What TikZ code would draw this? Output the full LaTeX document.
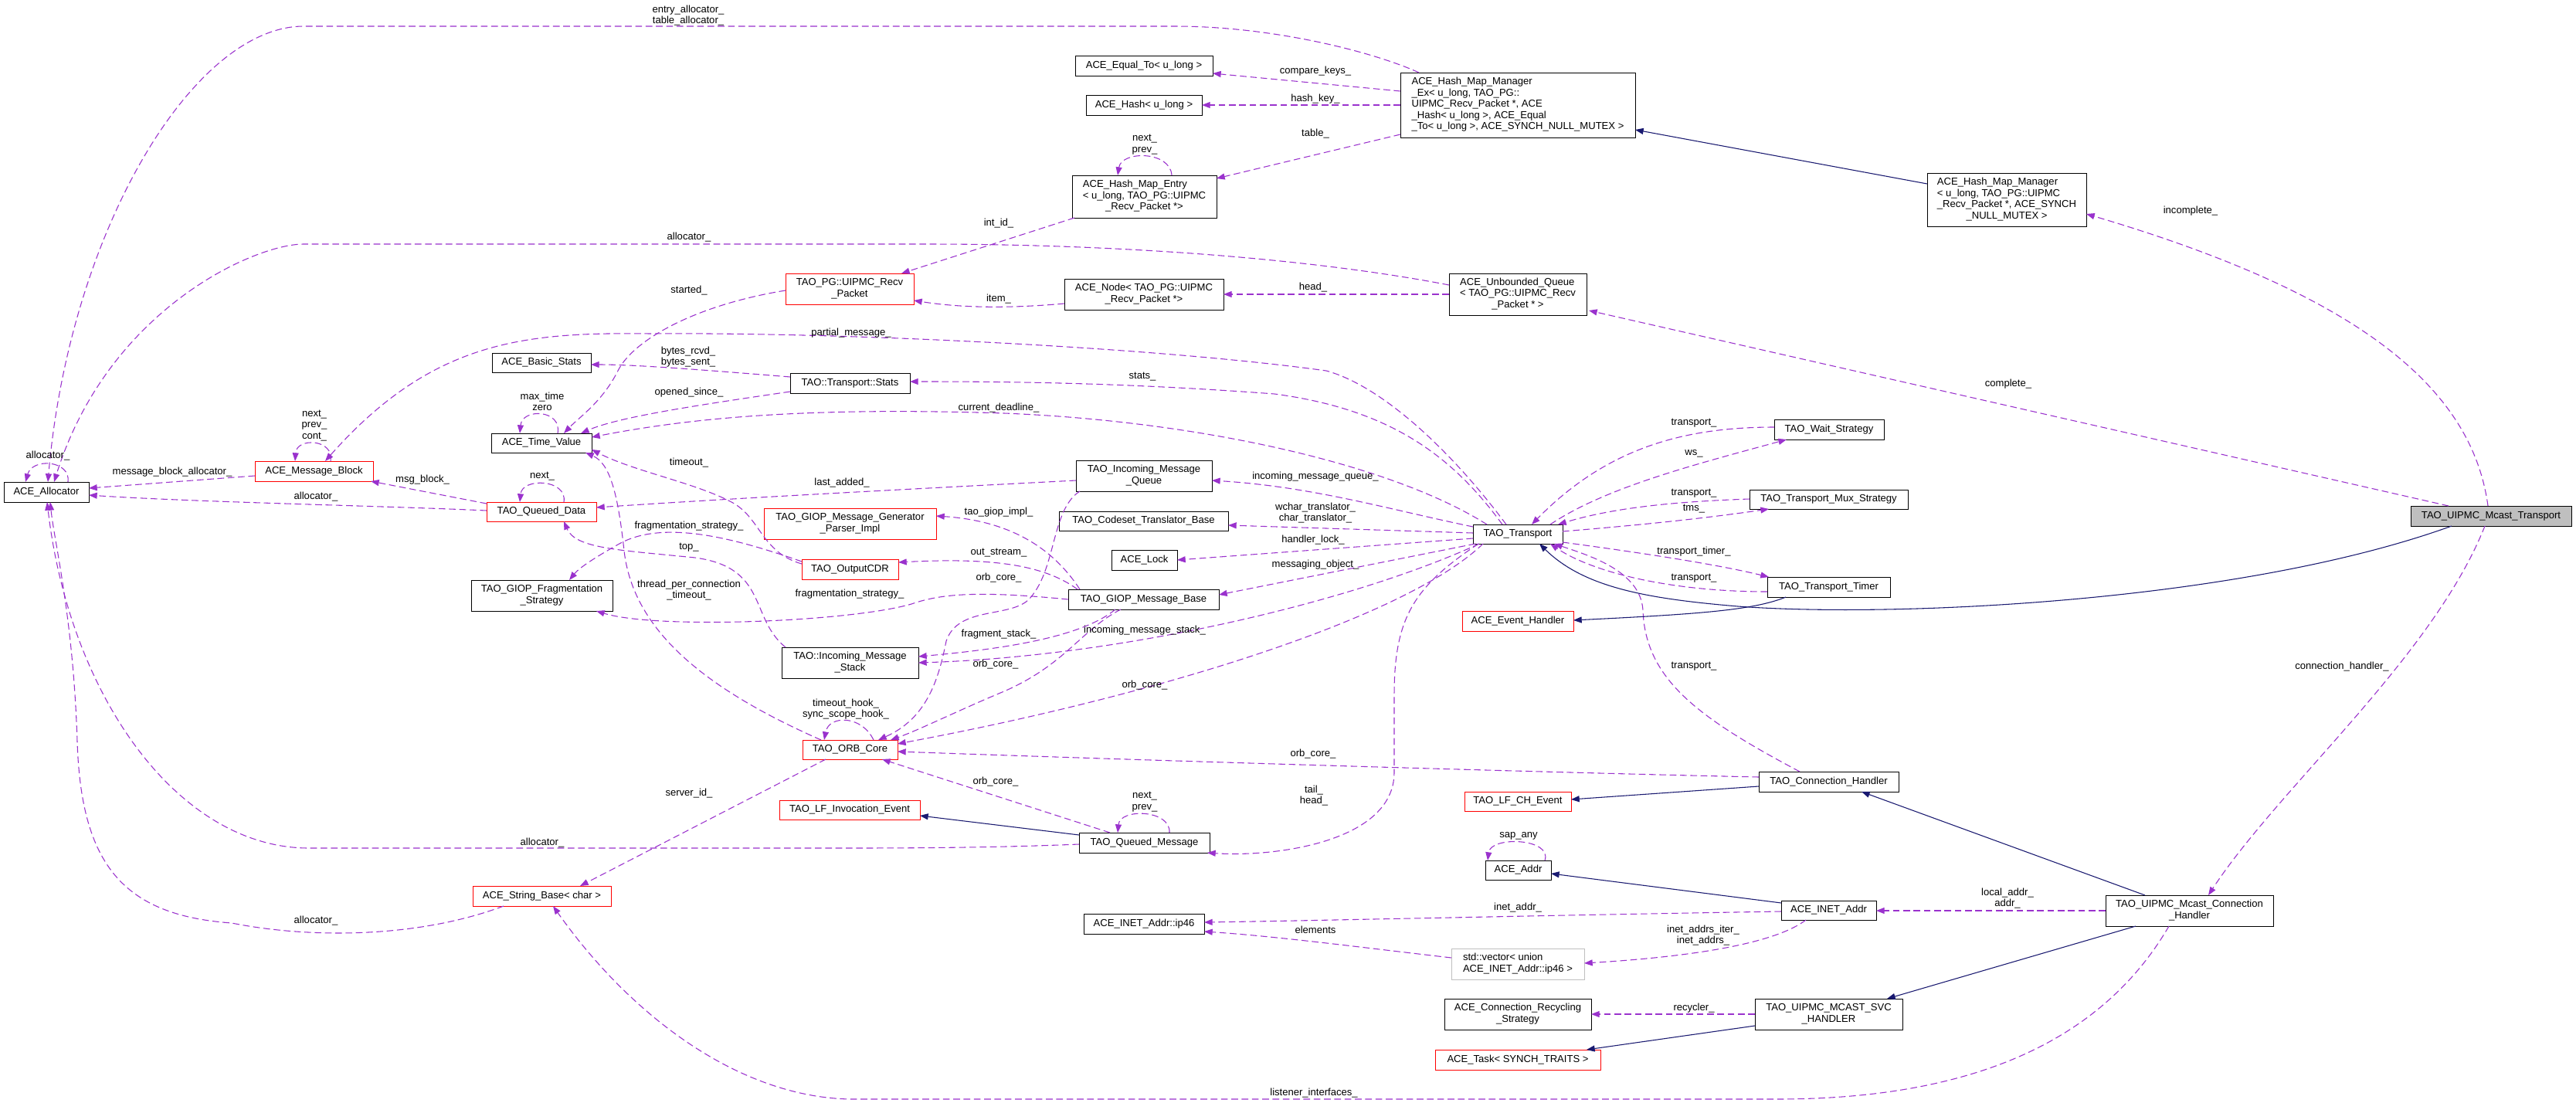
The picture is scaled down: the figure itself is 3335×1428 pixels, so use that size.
\documentclass[tikz,border=0pt]{standalone}
\usepackage{fontspec}
\setmainfont{Liberation Sans}
\usetikzlibrary{arrows.meta,calc}
\definecolor{edgeP}{HTML}{9A32CD}
\definecolor{inhB}{HTML}{191970}
\definecolor{grayB}{HTML}{BFBFBF}
\newcommand\mlt[1]{\begin{tabular}{@{}l@{}}#1\end{tabular}}
\newcommand\lastl[1]{\multicolumn{1}{@{}c@{}}{#1}}
\newcommand\mkbox[7]{%
  \pgfmathsetmacro\mkw{(#4-#2)*0.75}%
  \pgfmathsetmacro\mkh{(#5-#3)*0.75}%
  \node[#6,minimum width=\mkw pt,minimum height=\mkh pt] (#1) at ({(#2+#4)/2},{(#3+#5)/2}) {#7};}
\begin{document}
\begin{tikzpicture}[x=0.75pt,y=-0.75pt,
  font=\fontsize{9.8}{10.9}\selectfont,
  box/.style={draw=black,line width=0.75pt,inner sep=0pt,outer sep=0pt,fill=white},
  rbox/.style={box,draw=red},
  gbox/.style={box,draw=grayB},
  selbox/.style={box,fill=grayB},
  uedge/.style={draw=edgeP,line width=0.8pt,dash pattern=on 6.5pt off 3.5pt,-{Triangle[length=8pt,width=6pt]}},
  iedge/.style={draw=inhB,line width=0.8pt,-{Triangle[length=8pt,width=6pt]}},
  lbl/.style={inner sep=0pt,align=center}]
\fill[white] (0,0) rectangle (3335,1428);
\useasboundingbox (0,0) rectangle (3335,1428);
% ---------- boxes
\mkbox{ALLOC}{5}{624}{115}{650}{box}{ACE\_Allocator}
\mkbox{MB}{330}{597}{483}{623}{rbox}{ACE\_Message\_Block}
\mkbox{TV}{636}{561}{766}{586}{box}{ACE\_Time\_Value}
\mkbox{BS}{637}{457}{765}{482}{box}{ACE\_Basic\_Stats}
\mkbox{QD}{630}{650}{772}{675}{rbox}{TAO\_Queued\_Data}
\mkbox{FS}{610}{751}{793}{791}{box}{\mlt{TAO\_GIOP\_Fragmentation\\\lastl{\_Strategy}}}
\mkbox{SB}{612}{1147}{791}{1173}{rbox}{ACE\_String\_Base< char >}
\mkbox{RP}{1017}{354}{1183}{394}{rbox}{\mlt{TAO\_PG::UIPMC\_Recv\\\lastl{\_Packet}}}
\mkbox{ST}{1023}{483}{1178}{509}{box}{TAO::Transport::Stats}
\mkbox{PI}{989}{658}{1212}{698}{rbox}{\mlt{TAO\_GIOP\_Message\_Generator\\\lastl{\_Parser\_Impl}}}
\mkbox{OC}{1038}{724}{1163}{750}{rbox}{TAO\_OutputCDR}
\mkbox{IMS}{1012}{838}{1189}{878}{box}{\mlt{TAO::Incoming\_Message\\\lastl{\_Stack}}}
\mkbox{OR}{1039}{958}{1162}{983}{rbox}{TAO\_ORB\_Core}
\mkbox{LFI}{1009}{1036}{1191}{1061}{rbox}{TAO\_LF\_Invocation\_Event}
\mkbox{EQ}{1392}{72}{1570}{98}{box}{ACE\_Equal\_To< u\_long >}
\mkbox{HS}{1406}{123}{1556}{149}{box}{ACE\_Hash< u\_long >}
\mkbox{HE}{1388}{227}{1575}{282}{box}{\mlt{ACE\_Hash\_Map\_Entry\\< u\_long, TAO\_PG::UIPMC\\\lastl{\_Recv\_Packet *>}}}
\mkbox{ND}{1378}{361}{1584}{401}{box}{\mlt{ACE\_Node< TAO\_PG::UIPMC\\\lastl{\_Recv\_Packet *>}}}
\mkbox{IMQ}{1393}{596}{1569}{636}{box}{\mlt{TAO\_Incoming\_Message\\\lastl{\_Queue}}}
\mkbox{CT}{1371}{662}{1590}{687}{box}{TAO\_Codeset\_Translator\_Base}
\mkbox{LK}{1439}{712}{1524}{738}{box}{ACE\_Lock}
\mkbox{GMB}{1383}{763}{1578}{789}{box}{TAO\_GIOP\_Message\_Base}
\mkbox{QM}{1397}{1078}{1566}{1104}{box}{TAO\_Queued\_Message}
\mkbox{IP}{1403}{1183}{1559}{1209}{box}{ACE\_INET\_Addr::ip46}
\mkbox{HMX}{1813}{94}{2117}{178}{box}{\mlt{ACE\_Hash\_Map\_Manager\\\_Ex< u\_long, TAO\_PG::\\UIPMC\_Recv\_Packet *, ACE\\\_Hash< u\_long >, ACE\_Equal\\\lastl{\_To< u\_long >, ACE\_SYNCH\_NULL\_MUTEX >}}}
\mkbox{UQ}{1876}{354}{2054}{408}{box}{\mlt{ACE\_Unbounded\_Queue\\< TAO\_PG::UIPMC\_Recv\\\lastl{\_Packet * >}}}
\mkbox{TT}{1907}{679}{2023}{704}{box}{TAO\_Transport}
\mkbox{EH}{1893}{791}{2037}{817}{rbox}{ACE\_Event\_Handler}
\mkbox{LFC}{1896}{1025}{2034}{1050}{rbox}{TAO\_LF\_CH\_Event}
\mkbox{AD}{1923}{1114}{2008}{1139}{box}{ACE\_Addr}
\mkbox{VEC}{1879}{1228}{2051}{1268}{gbox}{\mlt{std::vector< union\\\lastl{ACE\_INET\_Addr::ip46 >}}}
\mkbox{CRS}{1870}{1293}{2060}{1333}{box}{\mlt{ACE\_Connection\_Recycling\\\lastl{\_Strategy}}}
\mkbox{TASK}{1858}{1359}{2072}{1385}{rbox}{ACE\_Task< SYNCH\_TRAITS >}
\mkbox{WS}{2297}{543}{2439}{569}{box}{TAO\_Wait\_Strategy}
\mkbox{MUX}{2265}{634}{2470}{659}{box}{TAO\_Transport\_Mux\_Strategy}
\mkbox{TMR}{2288}{747}{2447}{773}{box}{TAO\_Transport\_Timer}
\mkbox{CH}{2277}{999}{2458}{1025}{box}{TAO\_Connection\_Handler}
\mkbox{IA}{2306}{1166}{2429}{1191}{box}{ACE\_INET\_Addr}
\mkbox{SVC}{2272}{1293}{2463}{1333}{box}{\mlt{TAO\_UIPMC\_MCAST\_SVC\\\lastl{\_HANDLER}}}
\mkbox{HMM}{2495}{224}{2701}{293}{box}{\mlt{ACE\_Hash\_Map\_Manager\\< u\_long, TAO\_PG::UIPMC\\\_Recv\_Packet *, ACE\_SYNCH\\\lastl{\_NULL\_MUTEX >}}}
\mkbox{MT}{3121}{655}{3329}{681}{selbox}{TAO\_UIPMC\_Mcast\_Transport}
\mkbox{MCH}{2726}{1159}{2943}{1199}{box}{\mlt{TAO\_UIPMC\_Mcast\_Connection\\\lastl{\_Handler}}}
% ---------- usage edges
\draw[uedge] ($(HMX.north west)+(24,0)$) .. controls (1780,68) and (1650,34) .. (1521,34) -- (393,34) .. controls (250,34) and (90,300) .. ($(ALLOC.north west)+(57,0)$);
\draw[uedge] ($(UQ.north west)+(0,15)$) .. controls (1700,335) and (1450,316) .. (1200,316) -- (393,316) .. controls (330,316) and (140,400) .. ($(ALLOC.north west)+(65,0)$);
\draw[uedge] ($(MB.north west)+(0,19)$) -- ($(ALLOC.north west)+(110,8)$);
\draw[uedge] ($(QD.north west)+(0,11)$) .. controls (500,655) and (250,650) .. ($(ALLOC.north west)+(110,17)$);
\draw[uedge] ($(QM.north west)+(0,15)$) .. controls (1300,1097) and (1200,1098) .. (1100,1098) -- (400,1098) .. controls (230,1098) and (90,900) .. ($(ALLOC.south west)+(56,0)$);
\draw[uedge] ($(SB.south west)+(40,0)$) .. controls (540,1215) and (400,1215) .. (300,1195) .. controls (160,1185) and (105,1120) .. (100,960) .. controls (95,800) and (70,700) .. ($(ALLOC.south west)+(60,0)$);
\draw[uedge] ($(ALLOC.north west)+(83,0)$) .. controls (92,596) and (42,592) .. ($(ALLOC.north west)+(28,0)$);
\draw[uedge] ($(MB.north west)+(98,0)$) .. controls (433,568) and (384,566) .. ($(MB.north west)+(52,0)$);
\draw[uedge] ($(TT.north west)+(43,0)$) .. controls (1880,585) and (1790,500) .. (1717,480) .. controls (1500,450) and (1100,430) .. (842,432) .. controls (680,430) and (560,440) .. ($(MB.north west)+(91,0)$);
\draw[uedge] ($(TT.north west)+(38,0)$) .. controls (1880,590) and (1800,530) .. (1650,510) .. controls (1450,495) and (1300,494) .. ($(ST.north west)+(155,11)$);
\draw[uedge] ($(TT.north west)+(18,0)$) .. controls (1800,600) and (1550,545) .. (1300,535) .. controls (1050,527) and (900,540) .. ($(TV.north west)+(130,5)$);
\draw[uedge] ($(ST.south west)+(0,-2)$) .. controls (900,525) and (800,540) .. ($(TV.north west)+(116,0)$);
\draw[uedge] ($(RP.north west)+(0,22)$) .. controls (900,395) and (820,440) .. (800,480) .. controls (780,520) and (750,540) .. ($(TV.north west)+(94,0)$);
\draw[uedge] ($(TV.north west)+(86,0)$) .. controls (728,530) and (676,528) .. ($(TV.north west)+(37,0)$);
\draw[uedge] ($(OC.north west)+(0,6)$) .. controls (985,715) and (985,670) .. (947,650) .. controls (900,625) and (820,610) .. ($(TV.north west)+(130,21)$);
\draw[uedge] ($(OR.north west)+(24,0)$) .. controls (920,895) and (820,820) .. (808,713) .. controls (800,640) and (790,600) .. ($(TV.south west)+(122,0)$);
\draw[uedge] ($(QD.north west)+(100,0)$) .. controls (735,620) and (676,618) .. ($(QD.north west)+(43,0)$);
\draw[uedge] ($(QD.north west)+(0,2)$) -- ($(MB.south east)+(-3,0)$);
\draw[uedge] ($(IMQ.north west)+(0,26)$) .. controls (1200,632) and (950,645) .. ($(QD.north west)+(142,7)$);
\draw[uedge] ($(OC.north west)+(0,3)$) .. controls (960,700) and (860,670) .. (800,705) .. controls (770,722) and (750,735) .. ($(FS.north west)+(127,0)$);
\draw[uedge] ($(GMB.north west)+(0,13)$) .. controls (1270,765) and (1220,768) .. (1180,782) .. controls (1100,805) and (850,815) .. ($(FS.north west)+(162,40)$);
\draw[uedge] ($(IMS.north west)+(5,0)$) .. controls (970,800) and (995,735) .. (900,722) .. controls (800,712) and (745,710) .. ($(QD.south west)+(100,0)$);
\draw[uedge] ($(OR.north west)+(92,0)$) .. controls (1115,925) and (1073,926) .. ($(OR.north west)+(28,0)$);
\draw[uedge] ($(IMQ.south west)+(5,0)$) .. controls (1360,660) and (1368,740) .. (1331,777) .. controls (1305,800) and (1240,785) .. (1225,830) .. controls (1215,880) and (1200,930) .. ($(OR.north west)+(98,0)$);
\draw[uedge] ($(GMB.south west)+(68,0)$) .. controls (1400,815) and (1380,860) .. (1300,895) .. controls (1240,920) and (1190,945) .. ($(OR.north west)+(114,0)$);
\draw[uedge] ($(GMB.south west)+(61,0)$) .. controls (1400,825) and (1300,840) .. ($(IMS.north west)+(177,12)$);
\draw[uedge] ($(TT.south west)+(8,0)$) .. controls (1750,780) and (1450,850) .. ($(IMS.north west)+(177,20)$);
\draw[uedge] ($(TT.south west)+(13,0)$) .. controls (1820,800) and (1500,900) .. ($(OR.north west)+(123,5)$);
\draw[uedge] ($(CH.north west)+(0,7)$) .. controls (2000,1000) and (1500,985) .. ($(OR.north west)+(123,15)$);
\draw[uedge] ($(QM.north west)+(40,0)$) -- ($(OR.south west)+(103,0)$);
\draw[uedge] ($(OR.south west)+(30,0)$) -- ($(SB.north west)+(139,0)$);
\draw[uedge] ($(MCH.south west)+(82,0)$) .. controls (2720,1350) and (2550,1423) .. (2300,1423) -- (1100,1423) .. controls (960,1420) and (820,1320) .. ($(SB.south west)+(104,0)$);
\draw[uedge] ($(HMX.north west)+(0,24)$) -- ($(EQ.north west)+(178,23)$);
\draw[uedge] ($(HMX.north west)+(0,42)$) -- ($(HS.north west)+(150,13)$);
\draw[uedge] ($(HMX.north west)+(0,80)$) -- ($(HE.north west)+(187,4)$);
\draw[uedge] ($(HE.north west)+(129,0)$) .. controls (1515,195) and (1452,195) .. ($(HE.north west)+(59,0)$);
\draw[uedge] ($(HE.south west)+(3,0)$) -- ($(RP.north east)+(-16,0)$);
\draw[uedge] ($(ND.north west)+(0,32)$) .. controls (1300,400) and (1240,398) .. ($(RP.north east)+(0,35)$);
\draw[uedge] ($(UQ.north west)+(0,27)$) -- ($(ND.north east)+(0,20)$);
\draw[uedge] ($(MT.north west)+(100,0)$) .. controls (3200,500) and (3050,380) .. ($(HMM.north east)+(0,53)$);
\draw[uedge] ($(MT.north west)+(49,0)$) -- ($(UQ.south east)+(3,-6)$);
\draw[uedge] ($(MT.south west)+(96,0)$) .. controls (3150,850) and (2950,1020) .. ($(MCH.north west)+(133,0)$);
\draw[uedge] ($(TT.north west)+(100,0)$) .. controls (2080,630) and (2200,600) .. ($(WS.south west)+(16,0)$);
\draw[uedge] ($(WS.north west)+(0,10)$) .. controls (2180,553) and (2080,580) .. ($(TT.north west)+(76,0)$);
\draw[uedge] ($(MUX.north west)+(0,12)$) .. controls (2150,650) and (2080,660) .. ($(TT.north west)+(110,0)$);
\draw[uedge] ($(TT.north east)+(0,9)$) .. controls (2120,680) and (2200,672) .. ($(MUX.south west)+(25,0)$);
\draw[uedge] ($(TT.north east)+(0,23)$) .. controls (2120,715) and (2220,730) .. ($(TMR.north west)+(2,0)$);
\draw[uedge] ($(TMR.north west)+(0,19)$) .. controls (2160,766) and (2060,740) .. ($(TT.south west)+(100,0)$);
\draw[uedge] ($(CH.north west)+(53,0)$) .. controls (2200,930) and (2130,880) .. (2127,790) .. controls (2124,740) and (2060,720) .. ($(TT.south west)+(105,0)$);
\draw[uedge] ($(TT.south west)+(7,0)$) .. controls (1830,760) and (1805,800) .. (1805,900) -- (1805,1000) .. controls (1805,1090) and (1650,1110) .. ($(QM.south east)+(-3,0)$);
\draw[uedge] ($(TT.north west)+(0,3)$) .. controls (1800,660) and (1700,630) .. ($(IMQ.north east)+(0,26)$);
\draw[uedge] ($(TT.north west)+(0,11)$) -- ($(CT.north east)+(0,18)$);
\draw[uedge] ($(TT.north west)+(0,18)$) -- ($(LK.north east)+(0,13)$);
\draw[uedge] ($(TT.south west)+(3,0)$) -- ($(GMB.north east)+(0,7)$);
\draw[uedge] ($(GMB.north west)+(15,0)$) .. controls (1370,720) and (1320,675) .. ($(PI.north east)+(0,10)$);
\draw[uedge] ($(GMB.north west)+(12,0)$) .. controls (1350,730) and (1280,722) .. ($(OC.north east)+(0,4)$);
\draw[uedge] ($(ST.north west)+(0,5)$) .. controls (900,478) and (820,472) .. ($(BS.north east)+(0,15)$);
\draw[uedge] ($(QM.north west)+(117,0)$) .. controls (1516,1048) and (1450,1046) .. ($(QM.north west)+(50,0)$);
\draw[uedge] ($(AD.north west)+(77,0)$) .. controls (2010,1085) and (1930,1082) .. ($(AD.north west)+(3,0)$);
\draw[uedge] ($(IA.north west)+(0,14)$) .. controls (2000,1185) and (1700,1192) .. ($(IP.north east)+(0,11)$);
\draw[uedge] ($(VEC.north west)+(0,12)$) .. controls (1750,1225) and (1650,1212) .. ($(IP.north east)+(0,23)$);
\draw[uedge] ($(IA.south west)+(32,0)$) .. controls (2300,1220) and (2200,1238) .. ($(VEC.north east)+(0,19)$);
\draw[uedge] ($(MCH.north west)+(0,20)$) -- ($(IA.north east)+(0,13)$);
\draw[uedge] ($(SVC.north west)+(0,20)$) -- ($(CRS.north east)+(0,20)$);
% ---------- inheritance edges
\draw[iedge] ($(MT.south west)+(53,0)$) .. controls (2900,780) and (2450,800) .. (2250,785) .. controls (2130,775) and (2050,760) .. ($(TT.south west)+(86,0)$);
\draw[iedge] ($(TMR.south west)+(24,0)$) .. controls (2270,790) and (2200,795) .. ($(EH.north east)+(0,12)$);
\draw[iedge] ($(CH.north west)+(0,19)$) -- ($(LFC.north east)+(0,10)$);
\draw[iedge] ($(QM.north west)+(0,3)$) -- ($(LFI.north east)+(0,20)$);
\draw[iedge] ($(IA.north west)+(0,3)$) -- ($(AD.north east)+(0,17)$);
\draw[iedge] ($(MCH.north west)+(51,0)$) -- ($(CH.south west)+(133,0)$);
\draw[iedge] ($(MCH.south west)+(39,0)$) -- ($(SVC.north west)+(171,0)$);
\draw[iedge] ($(SVC.north west)+(0,35)$) -- ($(TASK.north east)+(-18,0)$);
\draw[iedge] ($(HMM.north west)+(0,14)$) -- ($(HMX.north east)+(0,74)$);
% ---------- labels
\node[lbl] (l01) at (891,20) {entry\_allocator\_\\table\_allocator\_};
\node[lbl] (l02) at (892,307) {allocator\_};
\node[lbl] (l03) at (892,376) {started\_};
\node[lbl] (l04) at (1102,431) {partial\_message\_};
\node[lbl] (l05) at (891,462) {bytes\_rcvd\_\\bytes\_sent\_};
\node[lbl] (l06) at (892,508) {opened\_since\_};
\node[lbl] (l07) at (702,520) {max\_time\\zero};
\node[lbl] (l08) at (407,551) {next\_\\prev\_\\cont\_};
\node[lbl] (l09) at (62,590) {allocator\_};
\node[lbl] (l10) at (223,611) {message\_block\_allocator\_};
\node[lbl] (l11) at (547,621) {msg\_block\_};
\node[lbl] (l12) at (409,643) {allocator\_};
\node[lbl] (l13) at (892,599) {timeout\_};
\node[lbl] (l14) at (702,617) {next\_};
\node[lbl] (l15) at (892,681) {fragmentation\_strategy\_};
\node[lbl] (l16) at (892,709) {top\_};
\node[lbl] (l17) at (892,764) {thread\_per\_connection\\\_timeout\_};
\node[lbl] (l18) at (892,1027) {server\_id\_};
\node[lbl] (l19) at (702,1091) {allocator\_};
\node[lbl] (l20) at (409,1192) {allocator\_};
\node[lbl] (l21) at (1703,92) {compare\_keys\_};
\node[lbl] (l22) at (1703,128) {hash\_key\_};
\node[lbl] (l23) at (1703,173) {table\_};
\node[lbl] (l24) at (1482,187) {next\_\\prev\_};
\node[lbl] (l25) at (1293,289) {int\_id\_};
\node[lbl] (l26) at (1293,387) {item\_};
\node[lbl] (l27) at (1700,372) {head\_};
\node[lbl] (l28) at (1479,488) {stats\_};
\node[lbl] (l29) at (1293,528) {current\_deadline\_};
\node[lbl] (l30) at (1090,625) {last\_added\_};
\node[lbl] (l31) at (1703,617) {incoming\_message\_queue\_};
\node[lbl] (l32) at (1293,663) {tao\_giop\_impl\_};
\node[lbl] (l33) at (1703,664) {wchar\_translator\_\\char\_translator\_};
\node[lbl] (l34) at (1700,699) {handler\_lock\_};
\node[lbl] (l35) at (1293,716) {out\_stream\_};
\node[lbl] (l36) at (1703,731) {messaging\_object\_};
\node[lbl] (l37) at (1293,748) {orb\_core\_};
\node[lbl] (l38) at (1100,769) {fragmentation\_strategy\_};
\node[lbl] (l39) at (1293,821) {fragment\_stack\_};
\node[lbl] (l40) at (1482,816) {incoming\_message\_stack\_};
\node[lbl] (l41) at (1289,860) {orb\_core\_};
\node[lbl] (l42) at (1482,887) {orb\_core\_};
\node[lbl] (l43) at (1095,918) {timeout\_hook\_\\sync\_scope\_hook\_};
\node[lbl] (l44) at (1700,976) {orb\_core\_};
\node[lbl] (l45) at (1289,1012) {orb\_core\_};
\node[lbl] (l46) at (1482,1038) {next\_\\prev\_};
\node[lbl] (l47) at (1701,1030) {tail\_\\head\_};
\node[lbl] (l48) at (1966,1082) {sap\_any};
\node[lbl] (l49) at (1965,1175) {inet\_addr\_};
\node[lbl] (l50) at (1703,1204) {elements};
\node[lbl] (l51) at (2205,1211) {inet\_addrs\_iter\_\\inet\_addrs\_};
\node[lbl] (l52) at (2193,1305) {recycler\_};
\node[lbl] (l53) at (1701,1415) {listener\_interfaces\_};
\node[lbl] (l54) at (2599,1163) {local\_addr\_\\addr\_};
\node[lbl] (l55) at (2836,273) {incomplete\_};
\node[lbl] (l56) at (2600,497) {complete\_};
\node[lbl] (l57) at (3032,863) {connection\_handler\_};
\node[lbl] (l58) at (2193,548) {transport\_};
\node[lbl] (l59) at (2193,587) {ws\_};
\node[lbl] (l60) at (2193,639) {transport\_};
\node[lbl] (l61) at (2193,659) {tms\_};
\node[lbl] (l62) at (2193,714) {transport\_timer\_};
\node[lbl] (l63) at (2193,749) {transport\_};
\node[lbl] (l64) at (2193,863) {transport\_};
\end{tikzpicture}
\end{document}
